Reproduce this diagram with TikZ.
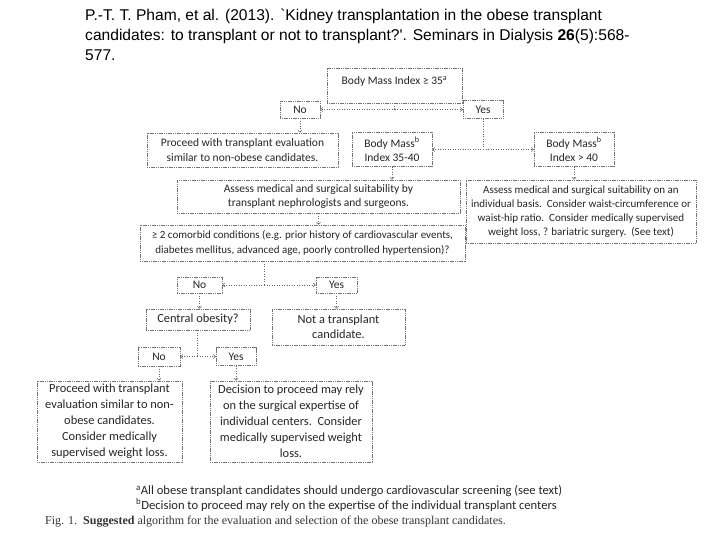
\documentclass[tikz,border=0pt]{standalone}
\usepackage{fontspec}
\setmainfont{Carlito}
\newfontfamily\titlefont{Liberation Sans}
\newfontfamily\capfont{Liberation Serif}
\usetikzlibrary{arrows.meta}
\begin{document}
\begin{tikzpicture}[x=1pt,y=-1pt,
  box/.style={draw=black!55, dash pattern=on 1.2pt off 0.6pt, line width=0.5pt,
    inner sep=0pt, align=center, font=\fontsize{11.5}{14.5}\selectfont, text=black!85},
  bigbox/.style={box, font=\fontsize{12.4}{16}\selectfont},
  conn/.style={draw=black!60, dotted, line width=0.5pt},
  arr/.style={conn, -{Straight Barb[length=2.2pt,width=4pt]}},
]
\useasboundingbox[fill=white] (0,0) rectangle (720,540);

% title
\node[anchor=north west, inner sep=0pt, align=left, font=\titlefont\fontsize{15.6}{20}\selectfont] (title) at (85,9)
 {P.-T. T. Pham, et al. (2013). `Kidney transplantation in the obese transplant\\
  candidates: to transplant or not to transplant?'. Seminars in Dialysis \textbf{26}(5):568-\\
  577.};

% boxes
\node[box, minimum width=135, minimum height=35, text height=8pt, text depth=10pt] (bmi) at (394.5,85.5)
 {Body Mass Index ≥ 35\textsuperscript{a}};
\node[box, minimum width=40, minimum height=17] (no1) at (300,109.5) {No};
\node[box, minimum width=40, minimum height=18] (yes1) at (483,109.5) {Yes};
\node[box, minimum width=191, minimum height=34] (proc1) at (242.5,150)
 {Proceed with transplant evaluation\\ similar to non-obese candidates.};
\node[box, minimum width=80, minimum height=34] (bmiA) at (392,149.5)
 {Body Mass\textsuperscript{b}\\ Index 35-40};
\node[box, minimum width=80, minimum height=34] (bmiB) at (574,149.5)
 {Body Mass\textsuperscript{b}\\ Index > 40};
\node[box, minimum width=283, minimum height=33] (ass1) at (318.5,196.5)
 {Assess medical and surgical suitability by\\ transplant nephrologists and surgeons.};
\node[box, minimum width=230, minimum height=63, font=\fontsize{11}{14}\selectfont] (ass2) at (581,211.5)
 {Assess medical and surgical suitability on an\\
  individual basis.\ \ Consider waist-circumference or\\
  waist-hip ratio.\ \ Consider medically supervised\\
  weight loss, ? bariatric surgery.\ \ (See text)};
\node[box, minimum width=325, minimum height=36, font=\fontsize{11}{15}\selectfont] (com) at (302.5,243)
 {≥ 2 comorbid conditions (e.g. prior history of cardiovascular events,\\
  diabetes mellitus, advanced age, poorly controlled hypertension)?};
\node[box, minimum width=45, minimum height=16] (no2) at (199.5,285) {No};
\node[box, minimum width=41, minimum height=16] (yes2) at (336.5,285) {Yes};
\node[bigbox, minimum width=104, minimum height=21] (cob) at (198,319.5) {Central obesity?};
\node[bigbox, minimum width=133, minimum height=36, font=\fontsize{12.4}{15}\selectfont] (notc) at (338.5,327)
 {Not a transplant\\ candidate.};
\node[box, minimum width=42, minimum height=19] (no3) at (159,356.5) {No};
\node[box, minimum width=40, minimum height=18] (yes3) at (236,356.5) {Yes};
\node[bigbox, minimum width=145, minimum height=81] (proc2) at (109.5,421.5)
 {Proceed with transplant\\ evaluation similar to non-\\ obese candidates.\\ Consider medically\\ supervised weight loss.};
\node[bigbox, minimum width=162, minimum height=81] (dec) at (291,421.5)
 {Decision to proceed may rely\\ on the surgical expertise of\\ individual centers.\ \ Consider\\ medically supervised weight\\ loss.};

% connectors
\coordinate (j1) at (394.5,109.5);
\draw[conn] (bmi.south) -- (j1);
\draw[arr] (j1) -- (no1.east);
\draw[arr] (j1) -- (yes1.west);
\draw[arr] (no1.south) -- (no1.south |- proc1.north);
\coordinate (j2) at (483,149.5);
\draw[conn] (yes1.south) -- (j2);
\draw[arr] (j2) -- (bmiA.east);
\draw[arr] (j2) -- (bmiB.west);
\draw[arr] (bmiA.south) -- (bmiA.south |- ass1.north);
\draw[arr] (bmiB.south) -- (bmiB.south |- ass2.north);
\draw[arr] (ass1.south) -- (ass1.south |- com.north);
\coordinate (j3) at (264,285);
\draw[conn] (j3 |- com.south) -- (j3);
\draw[arr] (j3) -- (no2.east);
\draw[arr] (j3) -- (yes2.west);
\draw[arr] (no2.south) -- (no2.south |- cob.north);
\draw[arr] (yes2.south) -- (yes2.south |- notc.north);
\coordinate (j4) at (197,356.5);
\draw[conn] (j4 |- cob.south) -- (j4);
\draw[arr] (j4) -- (no3.east);
\draw[arr] (j4) -- (yes3.west);
\draw[arr] (no3.south) -- (no3.south |- proc2.north);
\draw[arr] (yes3.south) -- (yes3.south |- dec.north);

% footnotes and caption
\node[anchor=west, inner sep=0pt, font=\fontsize{12.6}{14}\selectfont, text=black!85] (fn1) at (136,491)
 {\textsuperscript{a}All obese transplant candidates should undergo cardiovascular screening (see text)};
\node[anchor=west, inner sep=0pt, font=\fontsize{12.6}{14}\selectfont, text=black!85] (fn2) at (136,505)
 {\textsuperscript{b}Decision to proceed may rely on the expertise of the individual transplant centers};
\node[anchor=west, inner sep=0pt, font=\capfont\fontsize{12}{13}\selectfont, text=black!80] (cap) at (45,522)
 {\textsc{Fig}. 1.\ \ \textbf{Suggested} algorithm for the evaluation and selection of the obese transplant candidates.};
\end{tikzpicture}
\end{document}
